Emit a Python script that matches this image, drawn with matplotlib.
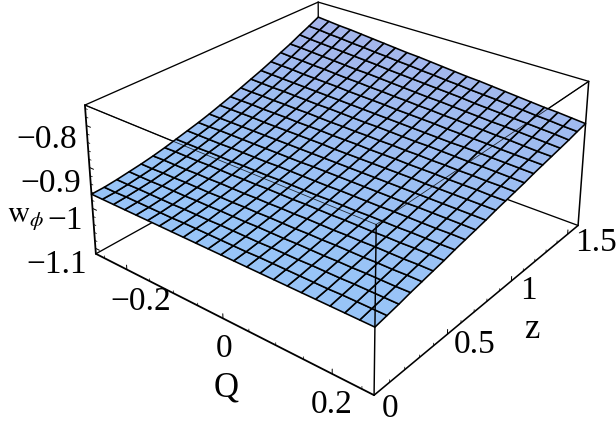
import numpy as np
import matplotlib
matplotlib.use('Agg')
import matplotlib.pyplot as plt
from mpl_toolkits.mplot3d.art3d import Line3DCollection

plt.rcParams['mathtext.fontset'] = 'stix'
W, H = 616, 428

Q_LIM = (-0.27, 0.27)
Z_LIM = (0.0, 1.6)
W_LIM = (-1.114, -0.752)
N_Q = 23
N_Z = 22

# surface heights, in thousandths of -w_phi
# one row per z step, one column per Q step
R00 = [965]*N_Q
R01 = [964,964,963,963,963,963,963,962,962,962,962,962,962,961,961,961,961,961,961,960,960,960,960]
R02 = [961,961,960,960,960,960,959,959,959,958,958,958,958,957,957,957,956,956,956,955,955,955,955]
R03 = [957,957,957,956,956,956,955,955,954,954,954,953,953,953,952,952,952,951,951,950,950,950,949]
R04 = [953,953,952,952,951,951,951,950,950,949,949,948,948,948,947,947,946,946,946,945,945,944,944]
R05 = [948,947,947,947,946,946,945,945,945,944,944,943,943,942,942,942,941,941,940,940,940,939,939]
R06 = [942,941,941,941,940,940,940,939,939,938,938,938,937,937,937,936,936,936,935,935,934,934,934]
R07 = [935,935,935,934,934,934,933,933,933,932,932,932,932,931,931,931,930,930,930,929,929,929,928]
R08 = [928,928,928,928,927,927,927,927,926,926,926,926,926,925,925,925,925,924,924,924,924,923,923]
R09 = [921,921,920,920,920,920,920,920,920,920,919,919,919,919,919,919,919,919,918,918,918,918,918]
R10 = [913,913,913,913,913,913,913,913,913,913,913,913,913,913,913,913,913,913,913,913,913,913,913]
R11 = [904,904,904,904,905,905,905,905,905,905,906,906,906,906,906,906,906,907,907,907,907,907,907]
R12 = [895,895,895,896,896,896,897,897,897,898,898,898,899,899,899,900,900,900,901,901,901,902,902]
R13 = [885,886,886,887,887,888,888,889,890,890,891,891,892,892,893,893,894,894,895,895,896,896,897]
R14 = [875,876,877,877,878,879,880,880,881,882,883,883,884,885,886,886,887,888,889,889,890,891,892]
R15 = [865,866,867,868,869,870,871,872,873,874,875,876,877,878,879,880,881,881,882,883,884,885,886]
R16 = [854,855,856,858,859,860,861,863,864,865,866,868,869,870,871,873,874,875,876,878,879,880,881]
R17 = [842,844,845,847,848,850,852,853,855,856,858,859,861,862,864,865,867,868,870,871,873,875,876]
R18 = [831,832,834,836,838,840,842,843,845,847,849,851,853,854,856,858,860,862,863,865,867,869,871]
R19 = [818,821,823,825,827,829,831,833,836,838,840,842,844,846,848,851,853,855,857,859,861,863,866]
R20 = [806,808,811,813,816,818,821,823,826,828,831,833,836,838,841,843,845,848,850,853,855,858,860]
R21 = [793,796,799,801,804,807,810,813,816,818,821,824,827,830,832,835,838,841,844,847,849,852,855]
W_ROWS = [R00,R01,R02,R03,R04,R05,R06,R07,R08,R09,R10,R11,R12,R13,R14,R15,R16,R17,R18,R19,R20,R21]

Q_MAJOR = [-0.2, 0.0, 0.2]
Q_MINOR = [-0.25, -0.15, -0.1, -0.05, 0.05, 0.1, 0.15, 0.25]
Z_MAJOR = [0.0, 0.5, 1.0, 1.5]
Z_MINOR = [0.1, 0.2, 0.3, 0.4, 0.6, 0.7, 0.8, 0.9, 1.1, 1.2, 1.3, 1.4]
W_MAJOR = [-1.1, -1.0, -0.9, -0.8]
W_MINOR = [-1.08, -1.06, -1.04, -1.02, -0.98, -0.96, -0.94, -0.92, -0.88, -0.86, -0.84, -0.82, -0.78, -0.76]

TICK_LABELS = [(47,140,'−0.8'),(51,184,'−0.9'),(65,221,'−1'),(57,265,'−1.1'),
               (141,302,'−0.2'),(224,349,'0'),(332,405,'0.2'),
               (390,409,'0'),(475,345,'0.5'),(528,291,'1'),(596,243,'1.5')]

q_vals = np.linspace(*Q_LIM, N_Q)
z_vals = np.linspace(*Z_LIM, N_Z)
QQ, ZZ = np.meshgrid(q_vals, z_vals)
WW = -np.array(W_ROWS, float)/1000

# camera: perspective fitted to where the box corners sit on the canvas
calib_box = np.array([[0,0,1],[0,0,0],[0,1,1],[1,1,1],[1,1,0],[1,0,0],[1,0,1]], float)
calib_px = np.array([[85,105],[96,254],[318,2],[589,82],[578,225],[374,395.5],[376,224]], float)
lo = np.array([Q_LIM[0], Z_LIM[0], W_LIM[0]])
hi = np.array([Q_LIM[1], Z_LIM[1], W_LIM[1]])
data_pts = lo + calib_box*(hi-lo)
A = []
for (x, y, z), (u, v) in zip(data_pts, calib_px):
    A.append([x,y,z,1,0,0,0,0,-u*x,-u*y,-u*z,-u])
    A.append([0,0,0,0,x,y,z,1,-v*x,-v*y,-v*z,-v])
P = np.linalg.svd(np.array(A))[2][-1].reshape(3,4)
C = np.linalg.svd(P)[2][-1]

fig = plt.figure(figsize=(W/100, H/100), dpi=100)
ax = fig.add_axes([0,0,1,1], projection='3d')
ax.set_axis_off()
ax.computed_zorder = False
ax.apply_aspect = lambda position=None: None

def get_proj():
    inv = ax.transData.inverted().get_matrix()
    flip = np.array([[1,0,0],[0,-1,H],[0,0,1.]])
    Pd = inv@flip@P
    return np.vstack([Pd[0], Pd[1], C, Pd[2]])
ax.get_proj = get_proj

t = (WW[:-1,:-1]+WW[1:,1:])/2
t = np.clip((t+0.97)/0.18, 0, 1)[..., None]
c0 = np.array([151,197,248])/255
c1 = np.array([166,180,234])/255
fc = np.dstack([(1-t)*c0[i]+t*c1[i] for i in range(3)]+[np.ones(t.shape)])
ax.plot_surface(QQ, ZZ, WW, rstride=1, cstride=1, facecolors=fc, edgecolor='black',
                linewidth=1.15, shade=False, zorder=2, antialiased=True)

a, b = Q_LIM
c, d = Z_LIM
e, f = W_LIM

def L(segs, lw=1.0, zo=1, alpha=1.0):
    col = Line3DCollection(segs, colors='k', linewidths=lw, zorder=zo, alpha=alpha, capstyle='round')
    ax.add_collection3d(col, autolim=False)

L([[(a,d,f),(a,d,e)],[(a,d,e),(a,c,e)],[(a,d,e),(b,d,e)],[(a,c,f),(a,d,f)],
   [(a,d,f),(b,d,f)],[(a,c,f),(b,c,f)],[(b,c,f),(b,d,f)]], 0.95, 1)
L([[(a,c,f),(b,c,f)],[(b,c,f),(b,d,f)]], 0.6, 3, 0.8)
L([[(b,c,f),(b,c,e)]], 1.05, 3)
L([[(a,c,f),(a,c,e)]], 1.3, 3)
L([[(b,d,f),(b,d,e)]], 1.1, 3)
L([[(a,c,e),(b,c,e)]], 1.3, 3)
L([[(b,c,e),(b,d,e)]], 1.15, 3)

# tick marks
L([[(q,c,e),(q,c,e+0.011)] for q in Q_MAJOR], 0.7, 3)
L([[(q,c,e),(q,c,e+0.006)] for q in Q_MINOR], 0.5, 3)
L([[(b,z,e),(b,z,e+0.011)] for z in Z_MAJOR[1:]], 0.7, 3)
L([[(b,z,e),(b,z,e+0.006)] for z in Z_MINOR], 0.5, 3)
L([[(a,c,w),(a+0.009,c,w)] for w in W_MAJOR], 0.7, 3)
L([[(a,c,w),(a+0.005,c,w)] for w in W_MINOR], 0.5, 3)

fam = 'Liberation Serif'
def T(x, y, s, fs=24, **k):
    fig.text(x/W, 1-y/H, s, ha='center', va='center', fontsize=fs, family=fam, **k)
for x, y, s in TICK_LABELS:
    T(x, y, s)
T(226, 388, 'Q', 25)
T(532, 329, 'z', 25)
T(26, 218, r'$\mathrm{w}_{\phi}$', 22)
fig.savefig('out.png', dpi=100)
